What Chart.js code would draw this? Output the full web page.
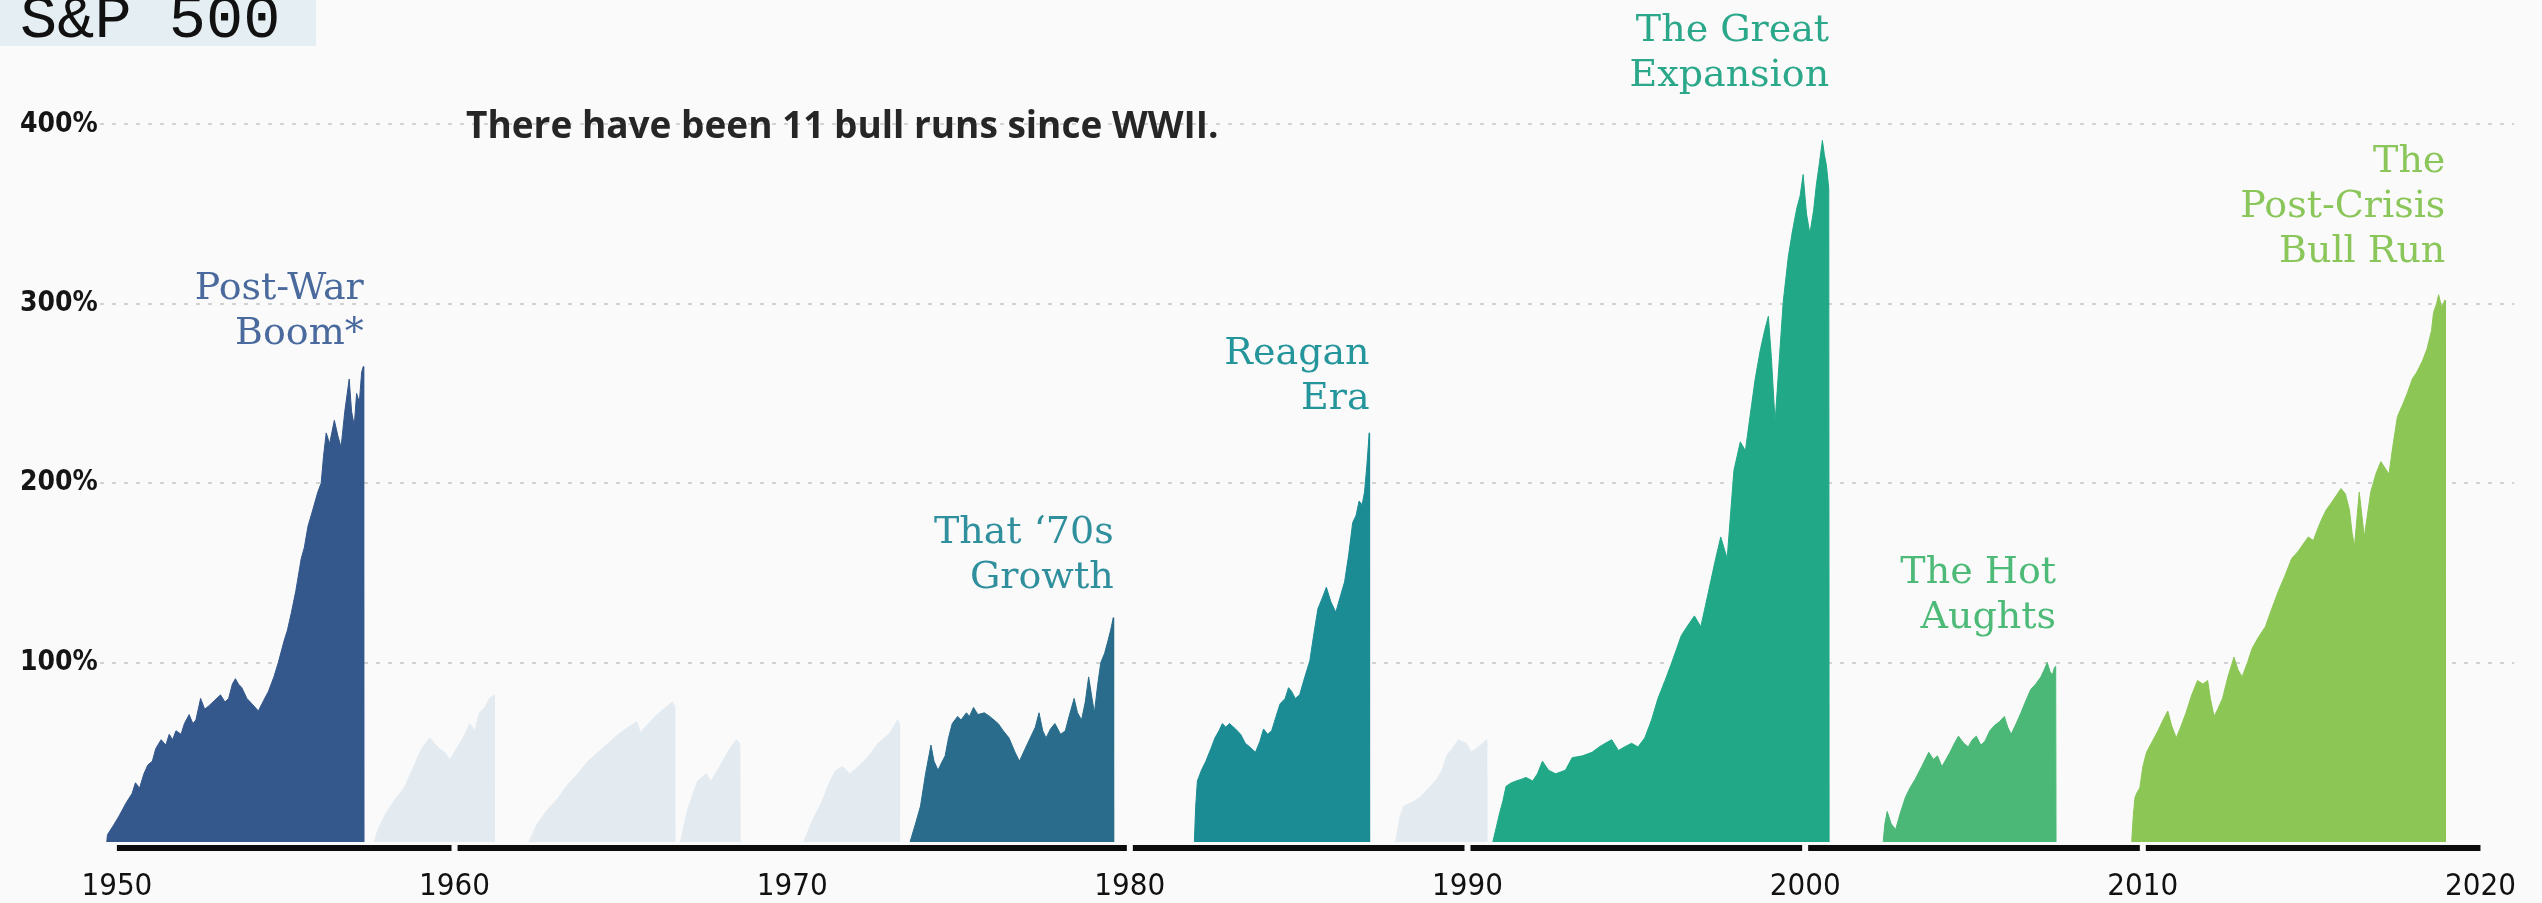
<!DOCTYPE html>
<html>
<head>
<meta charset="utf-8">
<title>S&amp;P 500 bull runs since WWII</title>
<script src="https://cdn.jsdelivr.net/npm/chart.js@4.4.1/dist/chart.umd.min.js"></script>
<style>
  html, body { margin: 0; padding: 0; background: #fafafa; }
  #wrap { position: relative; width: 2542px; height: 903px; overflow: hidden; }
  #bull { position: absolute; left: 0; top: 0; }
  .title-box { position: absolute; left: 0; top: 0; width: 316px; height: 46px; background: #e5eef2; overflow: hidden; }
  .title-box span { position: absolute; left: 20px; top: -10px; font: 62px/62px 'Liberation Mono', monospace; color: #111; white-space: nowrap; }
  .note { position: absolute; left: 466px; top: 102px; font: bold 37px/44px 'Open Sans', sans-serif; color: #262626; white-space: nowrap; }
</style>
</head>
<body>
<div id="wrap">
  <canvas id="bull" width="2542" height="903"></canvas>
  <div class="title-box"><span>S&amp;P 500</span></div>
  <div class="note">There have been 11 bull runs since WWII.</div>
</div>
<script>
// tick labels
const decades = [1950, 1960, 1970, 1980, 1990, 2000, 2010, 2020];
const yTicks = [100, 200, 300, 400];
// the black bar under the chart is broken at these years
const axisBreaks = [1950, 1960, 1980, 1990, 2000, 2010, 2020];

// each run: [year, % gain since start of run]
const postWar = [[1949.70,0],[1949.72,4],[1949.89,9],[1950.05,14],[1950.28,22],[1950.45,27],[1950.55,33],[1950.67,30],[1950.8,38],[1950.92,43],[1951.05,45],[1951.15,52],[1951.31,57],[1951.45,54],[1951.55,60],[1951.65,57],[1951.75,62],[1951.9,60],[1952.0,66],[1952.14,71],[1952.25,66],[1952.34,68],[1952.48,80],[1952.6,74],[1952.73,76],[1952.9,79],[1953.07,82],[1953.2,78],[1953.31,80],[1953.42,88],[1953.51,91],[1953.6,88],[1953.7,86],[1953.85,80],[1954.0,77],[1954.19,73],[1954.35,79],[1954.49,84],[1954.65,92],[1954.78,100],[1954.95,112],[1955.05,118],[1955.17,128],[1955.3,140],[1955.46,158],[1955.55,164],[1955.66,176],[1955.8,185],[1955.95,195],[1956.05,200],[1956.12,215],[1956.2,228],[1956.3,222],[1956.44,235],[1956.55,226],[1956.64,220],[1956.75,240],[1956.88,258],[1956.95,240],[1957.03,232],[1957.1,250],[1957.18,245],[1957.25,262],[1957.3,265],[1957.31,0]];
const minor1958 = [[1957.62,0],[1957.75,8],[1958.0,17],[1958.25,24],[1958.5,30],[1958.75,40],[1958.97,50],[1959.1,54],[1959.27,58],[1959.4,55],[1959.56,52],[1959.7,50],[1959.86,46],[1960.06,52],[1960.25,58],[1960.45,66],[1960.6,62],[1960.74,72],[1960.9,75],[1961.03,80],[1961.17,82],[1961.18,0]];
const minor1962 = [[1962.2,0],[1962.45,10],[1962.75,18],[1963.05,24],[1963.35,32],[1963.65,38],[1963.95,45],[1964.25,50],[1964.55,55],[1964.85,60],[1965.15,64],[1965.4,67],[1965.5,61],[1965.75,66],[1966.0,71],[1966.25,75],[1966.45,78],[1966.51,76],[1966.52,0]];
const minor1966 = [[1966.69,0],[1966.9,18],[1967.2,34],[1967.45,38],[1967.6,34],[1967.85,42],[1968.15,52],[1968.35,57],[1968.45,55],[1968.46,0]];
const minor1970 = [[1970.34,0],[1970.6,12],[1970.87,22],[1971.1,33],[1971.29,40],[1971.5,42],[1971.7,38],[1971.9,41],[1972.12,45],[1972.35,50],[1972.54,55],[1972.86,60],[1973.0,64],[1973.12,68],[1973.17,66],[1973.18,0]];
const seventies = [[1973.49,0],[1973.65,10],[1973.8,20],[1973.95,38],[1974.11,54],[1974.2,45],[1974.32,40],[1974.42,44],[1974.53,48],[1974.63,58],[1974.74,66],[1974.9,70],[1975.0,68],[1975.16,72],[1975.25,70],[1975.37,75],[1975.5,71],[1975.69,72],[1975.85,70],[1976.1,66],[1976.25,62],[1976.42,58],[1976.6,50],[1976.73,45],[1976.9,52],[1977.05,58],[1977.2,64],[1977.31,72],[1977.42,62],[1977.52,58],[1977.65,63],[1977.78,66],[1977.95,60],[1978.09,62],[1978.2,70],[1978.35,80],[1978.45,72],[1978.57,68],[1978.68,78],[1978.78,92],[1978.88,80],[1978.95,72],[1979.05,88],[1979.14,100],[1979.25,105],[1979.35,112],[1979.43,118],[1979.51,125],[1979.52,0]];
const reagan = [[1981.91,0],[1981.95,20],[1982.0,34],[1982.12,40],[1982.25,45],[1982.4,52],[1982.52,58],[1982.64,62],[1982.74,66],[1982.84,64],[1982.95,66],[1983.13,63],[1983.28,60],[1983.42,55],[1983.55,53],[1983.72,50],[1983.85,56],[1983.96,63],[1984.08,60],[1984.2,62],[1984.33,70],[1984.45,77],[1984.6,80],[1984.7,86],[1984.79,84],[1984.9,80],[1985.03,82],[1985.15,90],[1985.33,101],[1985.45,116],[1985.57,130],[1985.7,136],[1985.82,142],[1985.95,134],[1986.1,128],[1986.22,136],[1986.36,145],[1986.48,160],[1986.6,178],[1986.7,182],[1986.79,190],[1986.88,188],[1986.95,195],[1987.02,210],[1987.09,228],[1987.1,0]];
const minor1987 = [[1987.87,0],[1988.0,14],[1988.11,20],[1988.35,22],[1988.6,25],[1988.85,30],[1989.09,35],[1989.25,40],[1989.38,48],[1989.55,52],[1989.73,57],[1989.97,55],[1990.1,50],[1990.26,52],[1990.45,55],[1990.56,57],[1990.57,0]];
const greatExpansion = [[1990.75,0],[1990.85,8],[1990.95,16],[1991.05,23],[1991.14,31],[1991.3,33],[1991.44,34],[1991.6,35],[1991.73,36],[1991.93,34],[1992.07,38],[1992.22,45],[1992.4,40],[1992.61,38],[1992.75,39],[1992.9,40],[1993.1,47],[1993.4,48],[1993.69,50],[1993.9,53],[1994.08,55],[1994.27,57],[1994.47,51],[1994.65,53],[1994.86,55],[1995.05,53],[1995.25,58],[1995.45,68],[1995.64,80],[1995.85,90],[1996.03,99],[1996.2,108],[1996.33,115],[1996.5,120],[1996.72,126],[1996.91,120],[1997.05,132],[1997.2,145],[1997.35,158],[1997.5,170],[1997.69,158],[1997.8,185],[1997.89,207],[1998.08,223],[1998.23,218],[1998.38,239],[1998.52,258],[1998.67,274],[1998.8,285],[1998.91,293],[1999.0,270],[1999.11,234],[1999.22,265],[1999.35,301],[1999.5,326],[1999.62,340],[1999.75,353],[1999.85,360],[1999.94,372],[2000.04,350],[2000.14,339],[2000.25,352],[2000.33,366],[2000.42,378],[2000.51,391],[2000.57,383],[2000.63,377],[2000.7,364],[2000.71,0]];
const hotAughts = [[2002.31,0],[2002.36,10],[2002.43,17],[2002.55,10],[2002.68,7],[2002.8,15],[2002.97,25],[2003.1,30],[2003.26,35],[2003.45,42],[2003.66,50],[2003.8,46],[2003.92,48],[2004.05,42],[2004.17,46],[2004.29,50],[2004.42,55],[2004.54,59],[2004.7,55],[2004.83,53],[2004.95,57],[2005.07,59],[2005.2,54],[2005.32,56],[2005.47,62],[2005.61,65],[2005.75,67],[2005.9,70],[2006.0,64],[2006.1,60],[2006.25,66],[2006.39,72],[2006.52,78],[2006.68,85],[2006.83,88],[2006.98,92],[2007.08,96],[2007.17,100],[2007.25,95],[2007.32,93],[2007.38,97],[2007.42,98],[2007.43,0]];
const postCrisis = [[2009.67,0],[2009.72,15],[2009.77,25],[2009.84,28],[2009.91,30],[2010.0,42],[2010.11,50],[2010.28,56],[2010.45,62],[2010.6,68],[2010.74,73],[2010.85,65],[2010.99,58],[2011.12,64],[2011.28,72],[2011.45,82],[2011.62,90],[2011.78,88],[2011.92,90],[2012.0,80],[2012.11,70],[2012.22,74],[2012.36,80],[2012.52,92],[2012.7,103],[2012.82,96],[2012.94,92],[2013.1,100],[2013.24,108],[2013.42,114],[2013.63,120],[2013.82,130],[2014.02,140],[2014.2,148],[2014.41,158],[2014.6,162],[2014.9,170],[2015.05,168],[2015.19,175],[2015.3,180],[2015.43,185],[2015.62,190],[2015.87,197],[2016.0,194],[2016.12,185],[2016.2,172],[2016.27,165],[2016.41,195],[2016.5,180],[2016.56,170],[2016.75,195],[2016.9,205],[2017.05,212],[2017.29,205],[2017.4,220],[2017.54,237],[2017.7,244],[2017.83,250],[2017.98,258],[2018.12,262],[2018.28,268],[2018.42,275],[2018.55,285],[2018.61,295],[2018.7,300],[2018.76,305],[2018.85,298],[2018.95,302],[2018.96,0]];

const runs = [postWar, minor1958, minor1962, minor1966, minor1970, seventies, reagan, minor1987, greatExpansion, hotAughts, postCrisis];
const minorColor = '#e3ebf1';
const runColors = ['#34578c', minorColor, minorColor, minorColor, minorColor, '#296c8b', '#1c8c94', minorColor, '#21a887', '#4cb877', '#8cc655'];

// named runs and their captions
const labelRuns = [postWar, seventies, reagan, greatExpansion, hotAughts, postCrisis];
const labelLines = [
  ['Post-War', 'Boom*'],
  ['That \u201870s', 'Growth'],
  ['Reagan', 'Era'],
  ['The Great', 'Expansion'],
  ['The Hot', 'Aughts'],
  ['The', 'Post-Crisis', 'Bull Run']
];
const labelTop = [308, 172, 272, 452, 150, 379];
const labelColors = ['#4a6a9d', '#2f8f9c', '#24959b', '#2ba88a', '#4dba78', '#8bc65a'];

const runLabels = {
  id: 'runLabels',
  afterDatasetsDraw(chart) {
    const ctx = chart.ctx;
    const x = chart.scales.x, y = chart.scales.y;
    ctx.save();
    ctx.font = "38px 'DejaVu Serif', serif";
    ctx.textAlign = 'right';
    ctx.textBaseline = 'middle';
    labelRuns.forEach(function(run, i) {
      const px = x.getPixelForValue(run[run.length - 1][0]);
      const py = y.getPixelForValue(labelTop[i]);
      ctx.fillStyle = labelColors[i];
      labelLines[i].forEach(function(line, j) {
        ctx.fillText(line, px, py + j * 45);
      });
    });
    ctx.restore();
  }
};

// thick black bar under the plot, cut at some decades
const axisBar = {
  id: 'axisBar',
  afterDatasetsDraw(chart) {
    const ctx = chart.ctx;
    const x = chart.scales.x;
    const top = chart.chartArea.bottom + 3;
    ctx.save();
    ctx.fillStyle = '#0c0c0c';
    for (let i = 0; i < axisBreaks.length - 1; i++) {
      const a = x.getPixelForValue(axisBreaks[i]) + (i == 0 ? 0 : 3);
      const b = x.getPixelForValue(axisBreaks[i + 1]) - (i == axisBreaks.length - 2 ? 0 : 3);
      ctx.fillRect(a, top, b - a, 6);
    }
    ctx.restore();
  }
};

const datasets = runs.map(function(run, i) {
  return {
    data: run.map(p => ({x: p[0], y: p[1]})),
    backgroundColor: runColors[i],
    borderColor: runColors[i],
    borderWidth: 1,
    fill: 'origin',
    pointRadius: 0,
    tension: 0
  };
});

const chart = new Chart(document.getElementById('bull'), {
  type: 'line',
  data: { datasets: datasets },
  options: {
    responsive: false,
    animation: false,
    layout: { padding: { left: 20, top: 22, right: 4, bottom: 0 } },
    plugins: { legend: { display: false }, tooltip: { enabled: false } },
    scales: {
      x: {
        type: 'linear',
        min: 1949.5,
        max: 2021,
        border: { display: false },
        grid: { display: false, drawTicks: false },
        afterBuildTicks: s => { s.ticks = decades.map(v => ({ value: v })); },
        afterFit: s => { s.height = 61; },
        ticks: {
          padding: 26,
          color: '#111',
          maxRotation: 0,
          autoSkip: false,
          font: { family: "'DejaVu Sans Condensed', 'DejaVu Sans', sans-serif", size: 31 },
          callback: v => String(v)
        }
      },
      y: {
        min: 0,
        max: 457,
        border: { display: false, dash: [4, 8] },
        grid: { color: '#d2d2d2', lineWidth: 2, drawTicks: false },
        afterBuildTicks: s => { s.ticks = yTicks.map(v => ({ value: v })); },
        afterFit: s => { s.width = 80; },
        ticks: {
          crossAlign: 'far',
          padding: 0,
          color: '#151515',
          font: { family: "'DejaVu Sans Condensed', 'DejaVu Sans', sans-serif", size: 28, weight: 'bold' },
          callback: v => v + '%'
        }
      }
    }
  },
  plugins: [axisBar, runLabels]
});
</script>
</body>
</html>
